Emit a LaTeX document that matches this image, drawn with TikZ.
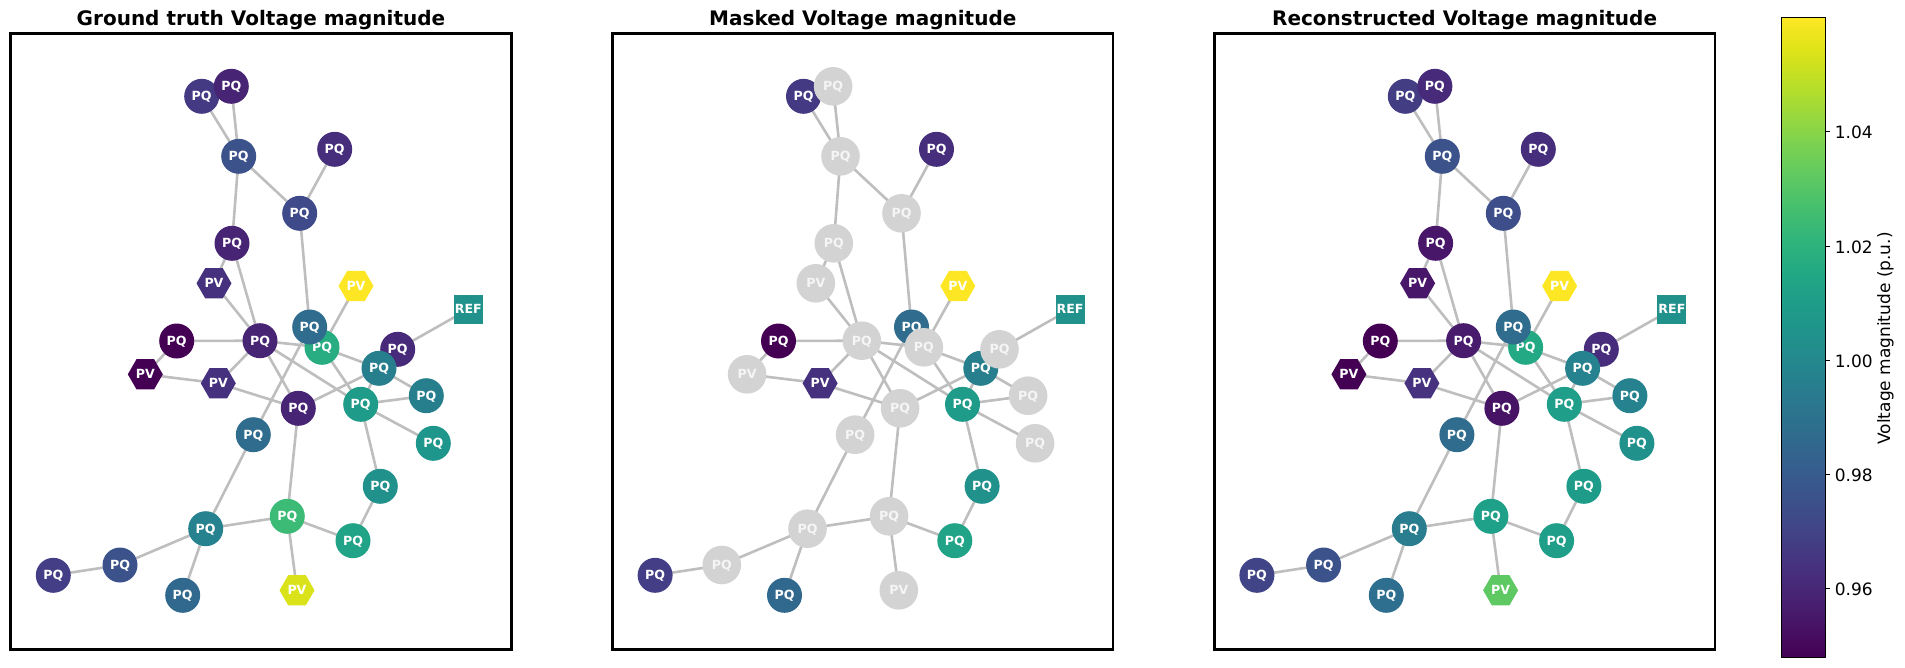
\documentclass[tikz,border=0pt]{standalone}
\usepackage{fontspec}
\setmainfont{DejaVu Sans}
\usetikzlibrary{shapes.geometric}
\pgfdeclarelayer{edgelayer}
\pgfsetlayers{edgelayer,main}
\definecolor{vA}{HTML}{440154}\definecolor{vB}{HTML}{471365}\definecolor{vC}{HTML}{482475}
\definecolor{vD}{HTML}{463480}\definecolor{vE}{HTML}{414487}\definecolor{vF}{HTML}{3B528B}
\definecolor{vG}{HTML}{355F8D}\definecolor{vH}{HTML}{2F6C8E}\definecolor{vI}{HTML}{2A788E}
\definecolor{vJ}{HTML}{25848E}\definecolor{vK}{HTML}{21918C}\definecolor{vL}{HTML}{1E9C89}
\definecolor{vM}{HTML}{22A884}\definecolor{vN}{HTML}{2FB47C}\definecolor{vO}{HTML}{44BF70}
\definecolor{vP}{HTML}{5EC962}\definecolor{vQ}{HTML}{7AD151}\definecolor{vR}{HTML}{9BD93C}
\definecolor{vS}{HTML}{BDDF26}\definecolor{vT}{HTML}{DFE318}\definecolor{vU}{HTML}{FDE725}
\pgfdeclareverticalshading{viridis}{100bp}{color(0bp)=(vA); color(25bp)=(vA); color(27.5bp)=(vB);
 color(30bp)=(vC); color(32.5bp)=(vD); color(35bp)=(vE); color(37.5bp)=(vF); color(40bp)=(vG);
 color(42.5bp)=(vH); color(45bp)=(vI); color(47.5bp)=(vJ); color(50bp)=(vK); color(52.5bp)=(vL);
 color(55bp)=(vM); color(57.5bp)=(vN); color(60bp)=(vO); color(62.5bp)=(vP); color(65bp)=(vQ);
 color(67.5bp)=(vR); color(70bp)=(vS); color(72.5bp)=(vT); color(75bp)=(vU); color(100bp)=(vU)}
\definecolor{edgegray}{RGB}{190,190,190}
\definecolor{maskgray}{RGB}{211,211,211}
\definecolor{masktext}{RGB}{245,245,245}
\tikzset{
  linkline/.style={draw=edgegray, line width=2.6pt},
  lbl/.style={font=\fontsize{12.6}{13}\selectfont\bfseries, text=white, text height=9.2pt, text depth=0pt, inner sep=0pt},
  pqnode/.style={lbl, circle, minimum size=35pt},
  pvnode/.style={lbl, regular polygon, regular polygon sides=6, minimum size=35pt},
  refnode/.style={lbl, rectangle, minimum size=29pt},
  masknode/.style={lbl, circle, minimum size=38.6pt, fill=maskgray, text=masktext},
  panelframe/.style={draw=black, line width=2.7pt},
  ttl/.style={font=\fontsize{20}{24}\selectfont\bfseries, anchor=base, inner sep=0pt},
  ticklbl/.style={font=\fontsize{17}{17}\selectfont, anchor=base west, inner sep=0pt},
}
\begin{document}
\begin{tikzpicture}[x=1pt,y=-1pt]
\useasboundingbox (0,0) rectangle (1905,667);
% ---------------- panel 1 : ground truth
\begin{scope}
\draw[panelframe] (10.7,33.7) rectangle (511.3,649.3);
\node[ttl] (ta) at (261,25.7) {Ground truth Voltage magnitude};
\foreach \n/\x/\y/\c in {A/201.7/96.3/443983, B/231.3/86.3/482475, C/238.7/156.3/3B528B,
  D/334.7/149.3/472E7C, E/299.7/213.3/3E4A89, F/232/243.3/482475, K/322/347.3/27AD81,
  J/309.7/327/2F6C8E, L/176.7/341/440154, M/260/340.7/482475, N/397.7/349.3/472A7A,
  Q/379/368.3/277F8E, R/298.3/408.3/482475, S/360.7/404.3/1E9C89, T/426.3/395.7/277F8E,
  U/433.3/443.3/1F968B, V/253.3/434.7/2F6C8E, W/380.3/486.3/21918C, X/287.3/516.3/3BBB75,
  Y/205.7/528.7/26828E, Z/353/540.7/20A386, AA/120/565/3B528B, AB/53.3/575.3/433E85,
  AC/182.7/595.3/31688E}{
  \definecolor{nc}{HTML}{\c}
  \node[pqnode, fill=nc] (a\n) at (\x,\y) {PQ};
}
\foreach \n/\x/\y/\c in {G/214/283.3/46317E, H/356/286/FDE725, O/145.3/374.3/440154,
  P/218.3/383.3/46317E, AD/297/590.3/DAE319}{
  \definecolor{nc}{HTML}{\c}
  \node[pvnode, fill=nc] (a\n) at (\x,\y) {PV};
}
\definecolor{nc}{HTML}{21918C}
\node[refnode, fill=nc] (aI) at (468.3,309.3) {REF};
\end{scope}
% ---------------- panel 2 : masked
\begin{scope}[xshift=601.8pt]
\draw[panelframe] (10.7,33.7) rectangle (511.3,649.3);
\node[ttl] (tb) at (261,25.7) {Masked Voltage magnitude};
\foreach \n/\x/\y/\c in {A/201.7/96.3/443983, D/334.7/149.3/472E7C,
  J/309.7/327/2F6C8E, L/176.7/341/440154, Q/379/368.3/277F8E, S/360.7/404.3/1E9C89,
  W/380.3/486.3/21918C, Z/353/540.7/20A386, AB/53.3/575.3/433E85, AC/182.7/595.3/31688E}{
  \definecolor{nc}{HTML}{\c}
  \node[pqnode, fill=nc] (b\n) at (\x,\y) {PQ};
}
\foreach \n/\x/\y/\c in {H/356/286/FDE725, P/218.3/383.3/46317E}{
  \definecolor{nc}{HTML}{\c}
  \node[pvnode, fill=nc] (b\n) at (\x,\y) {PV};
}
\definecolor{nc}{HTML}{21918C}
\node[refnode, fill=nc] (bI) at (468.3,309.3) {REF};
\foreach \n/\x/\y/\t in {B/231.3/86.3/PQ, C/238.7/156.3/PQ, E/299.7/213.3/PQ, F/232/243.3/PQ,
  G/214/283.3/PV, K/322/347.3/PQ, M/260/340.7/PQ, N/397.7/349.3/PQ, O/145.3/374.3/PV,
  R/298.3/408.3/PQ, T/426.3/395.7/PQ, U/433.3/443.3/PQ, V/253.3/434.7/PQ, X/287.3/516.3/PQ,
  Y/205.7/528.7/PQ, AA/120/565/PQ, AD/297/590.3/PV}{
  \node[masknode] (b\n) at (\x,\y) {\t};
}
\end{scope}
% ---------------- panel 3 : reconstructed
\begin{scope}[xshift=1203.6pt]
\draw[panelframe] (10.7,33.7) rectangle (511.3,649.3);
\node[ttl] (tc) at (261,25.7) {Reconstructed Voltage magnitude};
\foreach \n/\x/\y/\c in {A/201.7/96.3/433D84, B/231.3/86.3/472A7A, C/238.7/156.3/3B528B,
  D/334.7/149.3/472E7C, E/299.7/213.3/3D4E8A, F/232/243.3/48176A, K/322/347.3/23A983,
  J/309.7/327/2F6C8E, L/176.7/341/440154, M/260/340.7/481B6D, N/397.7/349.3/472D7B,
  Q/379/368.3/26828E, R/298.3/408.3/471365, S/360.7/404.3/1F9E89, T/426.3/395.7/26828E,
  U/433.3/443.3/21918C, V/253.3/434.7/2F6C8E, W/380.3/486.3/1E9C89, X/287.3/516.3/1FA088,
  Y/205.7/528.7/297D8E, Z/353/540.7/1F9E89, AA/120/565/3B528B, AB/53.3/575.3/414487,
  AC/182.7/595.3/2E6E8E}{
  \definecolor{nc}{HTML}{\c}
  \node[pqnode, fill=nc] (c\n) at (\x,\y) {PQ};
}
\foreach \n/\x/\y/\c in {G/214/283.3/48176A, H/356/286/FDE725, O/145.3/374.3/440154,
  P/218.3/383.3/46327E, AD/297/590.3/5EC962}{
  \definecolor{nc}{HTML}{\c}
  \node[pvnode, fill=nc] (c\n) at (\x,\y) {PV};
}
\definecolor{nc}{HTML}{21918C}
\node[refnode, fill=nc] (cI) at (468.3,309.3) {REF};
\end{scope}
% ---------------- edges (behind nodes)
\begin{pgfonlayer}{edgelayer}
\foreach \p in {a,b,c}{
  \foreach \u/\v in {A/C, B/C, C/E, D/E, C/F, E/J, F/G, G/M, F/M, H/K, I/N, L/M, L/O, O/P,
    P/M, M/K, M/R, M/S, P/R, J/V, K/Q, K/S, R/Q, Q/T, Q/S, S/T, S/U, S/W, R/X, V/Y, Y/X,
    X/Z, Z/W, X/AD, Y/AA, AA/AB, Y/AC}{
    \draw[linkline] (\p\u.center) -- (\p\v.center);
  }
}
\end{pgfonlayer}
% ---------------- colour bar
\shade[shading=viridis] (1781.3,17.3) rectangle (1825.3,657.3);
\node[draw=black, line width=0.9pt, inner sep=0pt, minimum width=44pt, minimum height=640pt] (cbar) at (1803.3,337.3) {};
\foreach \v/\y in {1.04/131.7, 1.02/246.7, 1.00/360.7, 0.98/474.7, 0.96/588.7}{
  \draw[line width=0.9pt] (1825.3,\y) -- (1830.3,\y);
  \node[ticklbl] at (1834.7,\y+6.6) {\v};
}
\node[font=\fontsize{17}{17}\selectfont, rotate=90, anchor=base, inner sep=0pt] (cblabel) at (1890,338.4) {Voltage magnitude (p.u.)};
\end{tikzpicture}
\end{document}
